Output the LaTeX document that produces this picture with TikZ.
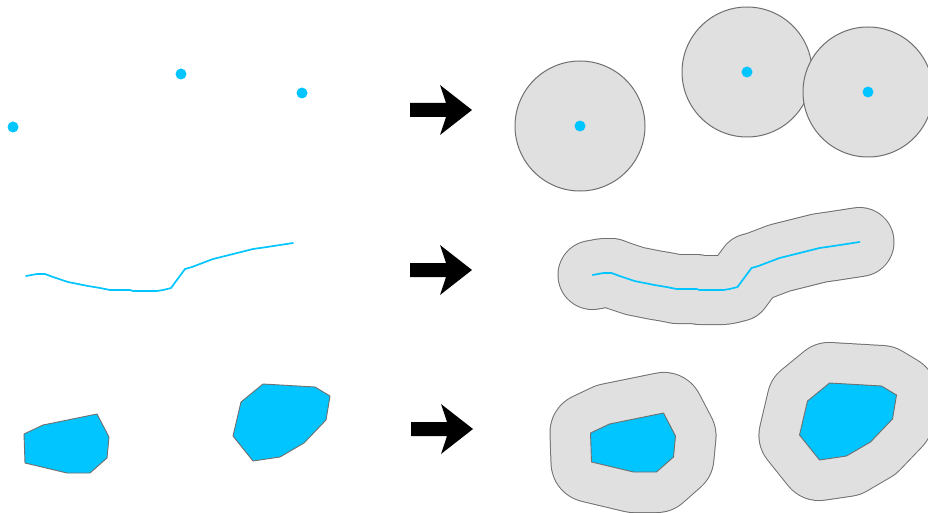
\documentclass[tikz,border=0pt]{standalone}
\definecolor{featblue}{RGB}{0,197,255}
\definecolor{buffill}{RGB}{224,224,224}
\definecolor{bufline}{RGB}{112,112,112}
\tikzset{
 dot/.style={circle, fill=featblue, inner sep=0pt, minimum size=11pt},
 bufcircle/.style={circle, draw=bufline, fill=buffill, line width=1pt, inner sep=0pt, minimum size=130pt},
 riverline/.style={draw=featblue, line width=1.7pt, line join=round, line cap=round},
 polyfeat/.style={fill=featblue, draw=bufline, line width=0.9pt, line join=round},
 bufedge/.style={draw=bufline, line width=#1+2pt, line join=round, line cap=round},
 linebody/.style={draw=buffill, line width=#1, line join=round, line cap=round},
 polybody/.style={draw=buffill, fill=buffill, line width=#1, line join=round},
 bigarrow/.pic={\fill[black] (0,-7)--(36,-7)--(30,-25)--(62,0)--(30,25)--(36,7)--(0,7)--cycle;}
}
\newcommand{\riverpath}{(26,276) -- (37,274) -- (45,274) -- (53,277) -- (68,282) -- (88,286) -- (100,288) -- (110,290) -- (130,290) -- (133,291) -- (157,291) -- (163,290) -- (171,288) -- (185,269) -- (192,267) -- (213,259) -- (233,254) -- (253,249) -- (267,247) -- (280,245) -- (293,243)}
\newcommand{\polyA}{(24,434) -- (43,425) -- (97,414) -- (109,437) -- (107,458) -- (90,473) -- (67,473) -- (25,463) -- cycle}
\newcommand{\polyB}{(241,402) -- (263,384) -- (315,387) -- (330,396) -- (326,420) -- (304,443) -- (280,457) -- (253,461) -- (233,436) -- cycle}
\begin{document}
\begin{tikzpicture}[x=1pt, y=-1pt]
\useasboundingbox (0,0) rectangle (928,513);
\clip (0,0) rectangle (928,513);
% ---------- left: input features ----------
\node[dot] (p1) at (13,127) {};
\node[dot] (p2) at (181,74) {};
\node[dot] (p3) at (302,93) {};
\draw[riverline] \riverpath;
\path[polyfeat] \polyA;
\path[polyfeat] \polyB;
% ---------- arrows ----------
\pic (a1) at (410,110) {bigarrow};
\pic (a2) at (410,270) {bigarrow};
\pic (a3) at (411,429) {bigarrow};
% ---------- right: buffers ----------
\node[bufcircle] (c1) at (580,126) {};
\node[bufcircle] (c2) at (747,72) {};
\node[bufcircle] (c3) at (868,92) {};
\node[dot] (q1) at (c1) {};
\node[dot] (q2) at (c2) {};
\node[dot] (q3) at (c3) {};
\begin{scope}[shift={(566.5,-1)}]
 \draw[bufedge=68pt] \riverpath;
 \draw[linebody=68pt] \riverpath;
 \draw[riverline] \riverpath;
 \draw[bufedge=80pt] \polyA;
 \path[polybody=80pt] \polyA;
 \draw[bufedge=80pt] \polyB;
 \path[polybody=80pt] \polyB;
 \path[polyfeat] \polyA;
 \path[polyfeat] \polyB;
\end{scope}
\end{tikzpicture}
\end{document}
